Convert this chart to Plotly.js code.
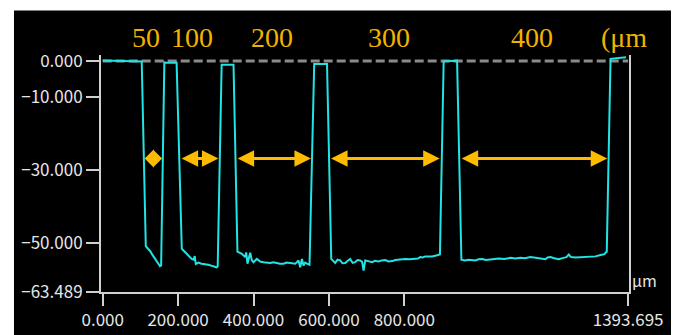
<!DOCTYPE html>
<html>
<head>
<meta charset="utf-8">
<script src="https://cdn.plot.ly/plotly-3.0.1.min.js"></script>
<style>html,body{margin:0;padding:0;background:#fff;}#chart{width:678px;height:335px;}</style>
</head>
<body>
<div id="chart"></div>
<script>
// Surface profile (µm)
const profileX = [0,20,50,80,103.5,114.3,120,125.7,132,139,145,152,155,
  163.5,170,196,209.8,216,222,229,236,241,244,247,254,262,270,280,290,302,305,
  315.5,330,347,357.4,364.6,369.1,377.9,380.5,384.0,391.2,395.6,399.9,408.9,417.7,426.4,435,444.2,453,462.0,470,479.6,488,497.3,505,510.6,515,519.4,523.9,528.4,532.7,537,541.7,548.6,
  561,575,595,606.2,611,616.6,623,629.9,636,643.2,650,656.5,663,669.8,676,683.0,688,692.0,696.5,705,715.1,722,731.8,740,749.6,758,768.2,776,784.9,793,802.7,815,829.3,836,842.5,849,855.8,865,873.6,882,891.1,894.5,
  904.4,920,940,951.4,960,970.8,980,988.6,997,1006.4,1017,1028.4,1040,1050.4,1065,1081.5,1095,1108,1120,1134.6,1148,1161.2,1174.4,1180,1187.7,1198,1209.8,1222,1230,1236.3,1242,1254.1,1267.4,1280,1294,1307,1320.5,1331.1,1334.6,1337,
  1347,1360,1375,1388];
const profileY = [0.15,0.05,-0.05,-0.1,-0.15,-50.9,-51.6,-52.2,-53.3,-54.3,-55.2,-56.4,-56.2,
  -0.4,-0.5,-0.5,-51.6,-52.3,-53.0,-53.6,-54.4,-54.6,-53.6,-55.8,-55.4,-55.7,-55.8,-56.0,-56.3,-56.7,-56.5,
  -1.0,-1.0,-1.0,-52.4,-52.9,-53.0,-53.9,-52.6,-55.7,-52.7,-54.8,-55.3,-54.4,-55.1,-55.3,-55.4,-55.5,-55.3,-55.5,-55.7,-55.7,-55.4,-55.5,-55.6,-55.7,-55.3,-54.8,-56.7,-54.4,-56.2,-55.4,-55.7,-56.0,
  -0.8,-0.8,-0.8,-54.4,-54.9,-55.5,-54.6,-54.8,-55.6,-55.5,-54.9,-54.4,-55.5,-55.3,-54.7,-54.8,-55.2,-57.6,-54.8,-55.1,-55.3,-54.9,-55.1,-54.8,-54.7,-55.1,-55.0,-54.7,-54.6,-54.7,-54.4,-54.5,-54.4,-54.3,-53.9,-54.0,-53.7,-53.8,-53.7,-53.5,-53.4,-53.2,
  -0.1,0.0,0.1,-54.6,-54.8,-54.6,-54.7,-54.8,-54.5,-54.4,-54.7,-54.6,-54.4,-54.3,-54.4,-54.1,-54.3,-54.1,-54.2,-53.9,-54.1,-54.2,-54.5,-54.0,-53.9,-54.2,-54.5,-54.1,-53.9,-53.2,-53.9,-54.0,-53.9,-53.8,-53.8,-53.7,-53.3,-53.1,-52.6,-52.4,
  0.6,0.7,0.8,1.0];

// Reference line at zero
const refX = [0, 1393.695];
const refY = [0, 0];

// Width arrows (start / end x, common y)
const arrowStart = [107.2, 205.3, 353.9, 601.7, 948.2];
const arrowEnd   = [157.5, 307.0, 552.3, 893.8, 1338.3];
const arrowY = -26.8;

// Width labels
const labelText = ['50', '100', '200', '300', '400', '(μm'];
const labelX    = [115, 237, 450, 760, 1140, 1384];

// Axis ticks
const xTickVals = [0, 200, 400, 600, 800, 1393.695];
const xTickText = ['0.000', '200.000', '400.000', '600.000', '800.000', '1393.695'];
const yTickVals = [0, -10, -30, -50, -63.489];
const yTickText = ['0.000', '−10.000', '−30.000', '−50.000', '−63.489'];

const tickFont = {family: '"Noto Sans CJK JP", "Noto Sans", sans-serif', size: 17, color: '#e6e6e6'};

const traces = [
  {x: refX, y: refY, mode: 'lines', line: {color: '#8a8a8a', width: 3, dash: '9px,4px'}, hoverinfo: 'skip'},
  {x: profileX, y: profileY, mode: 'lines', line: {color: '#22e4e4', width: 2}}
];

const annotations = [];
for (let i = 0; i < arrowStart.length; i++) {
  const shortArrow = (i === 0);
  annotations.push({
    x: arrowEnd[i], y: arrowY, ax: arrowStart[i], ay: arrowY,
    xref: 'x', yref: 'y', axref: 'x', ayref: 'y',
    text: '', showarrow: true, arrowside: 'end+start',
    arrowhead: shortArrow ? 1 : 2, startarrowhead: shortArrow ? 1 : 2,
    arrowsize: shortArrow ? 1.0 : 1.1, startarrowsize: shortArrow ? 1.0 : 1.1,
    arrowwidth: 3, arrowcolor: '#ffbb00', standoff: 0, startstandoff: 0
  });
}
for (let i = 0; i < labelText.length; i++) {
  annotations.push({
    x: labelX[i], y: 1.075, xref: 'x', yref: 'paper', text: labelText[i],
    showarrow: false, xanchor: 'center', yanchor: 'middle',
    font: {family: '"Liberation Serif", "DejaVu Serif", serif', size: 28, color: '#f0b400'}
  });
}
annotations.push({
  x: 1.03, y: 0.05, xref: 'paper', yref: 'paper', text: 'μm', showarrow: false,
  xanchor: 'center', yanchor: 'middle', font: {family: tickFont.family, size: 16, color: '#e6e6e6'}
});

const layout = {
  width: 678, height: 335,
  margin: {l: 101, r: 49, t: 55, b: 43, pad: 0},
  paper_bgcolor: '#ffffff', plot_bgcolor: '#000000',
  showlegend: false,
  xaxis: {
    range: [-4.5, 1396], showgrid: false, zeroline: false,
    showline: true, linecolor: '#d0d0d0', linewidth: 2,
    ticks: 'outside', ticklen: 12, tickwidth: 2, tickcolor: '#d0d0d0',
    tickvals: xTickVals, ticktext: xTickText, tickfont: tickFont
  },
  yaxis: {
    range: [-63.489, 1.65], showgrid: false, zeroline: false,
    showline: true, mirror: true, linecolor: '#d0d0d0', linewidth: 2,
    ticks: 'outside', ticklen: 13, tickwidth: 2, tickcolor: '#d0d0d0',
    tickvals: yTickVals, ticktext: yTickText, tickfont: tickFont
  },
  shapes: [{
    type: 'rect', xref: 'paper', yref: 'paper', layer: 'below',
    x0: -0.1648, x1: 1.0795, y0: -0.25, y1: 1.1878,
    fillcolor: '#000000', line: {width: 0}
  }],
  annotations: annotations
};

Plotly.newPlot('chart', traces, layout, {displayModeBar: false, staticPlot: true});
</script>
</body>
</html>
